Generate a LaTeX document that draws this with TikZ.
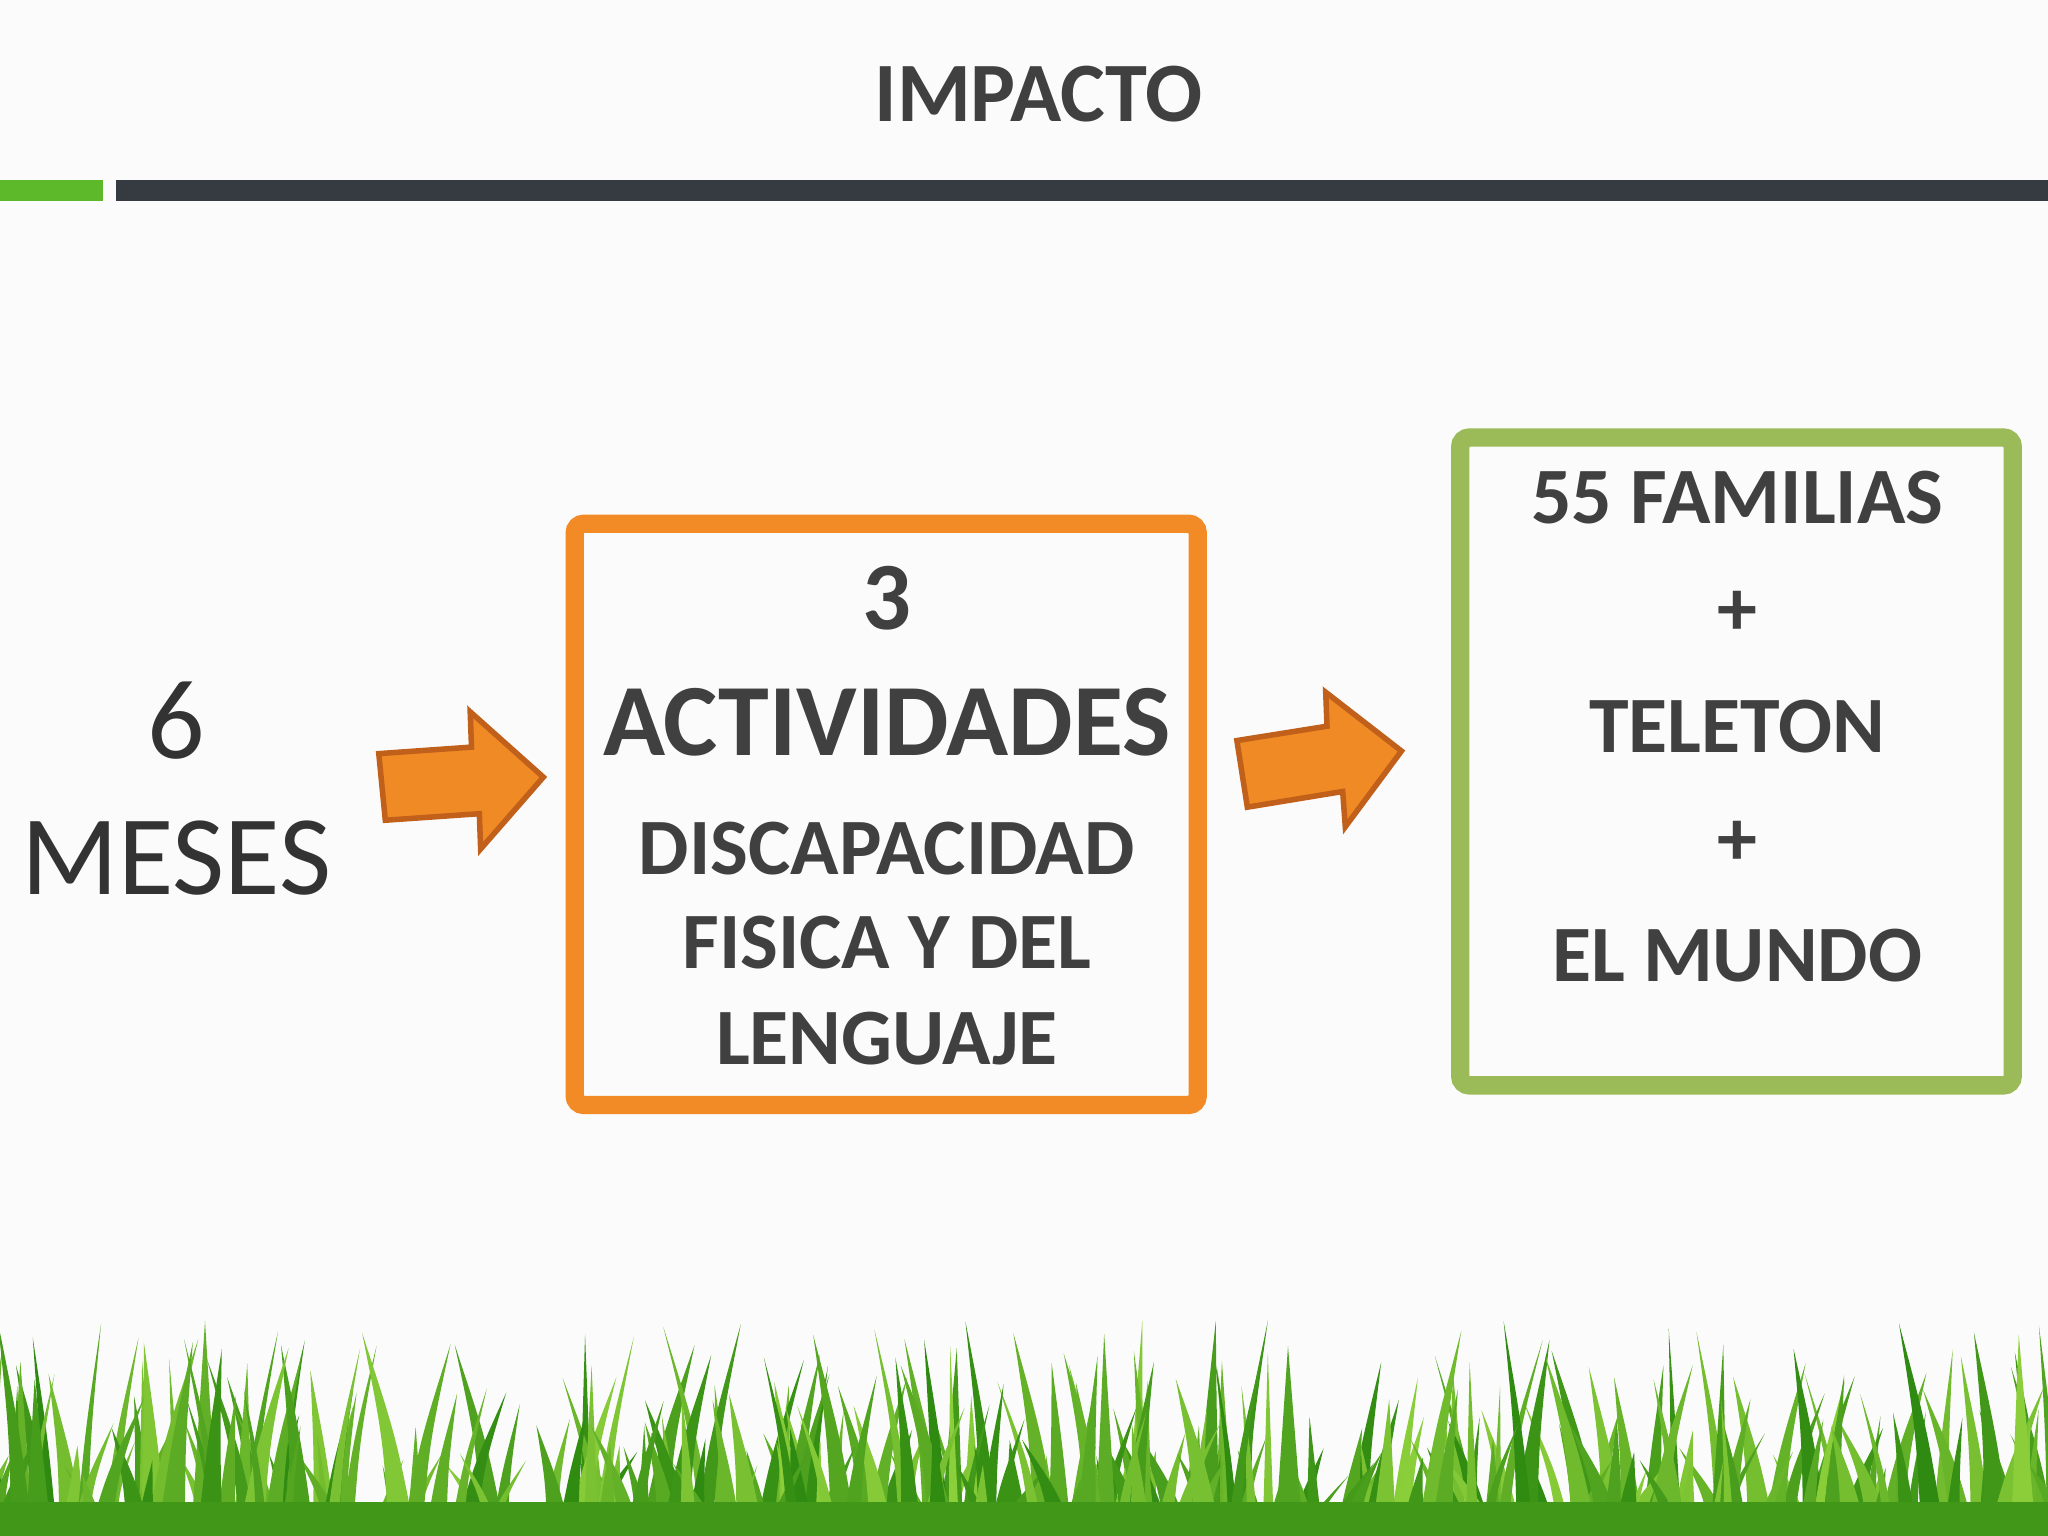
\documentclass[tikz,border=0pt]{standalone}
\usepackage{fontspec}
\setmainfont{Carlito}
\definecolor{txt}{HTML}{404040}
\definecolor{orbox}{HTML}{F28A25}
\definecolor{orarrow}{HTML}{F08A24}
\definecolor{orline}{HTML}{C0601A}
\definecolor{grbox}{HTML}{9BBB59}
\definecolor{barg}{HTML}{5DB82A}
\definecolor{bard}{HTML}{353B40}
\definecolor{grassA}{HTML}{2E8A10}
\definecolor{grassB}{HTML}{8CCF3A}
\begin{document}
\begin{tikzpicture}[x=0.01cm,y=-0.01cm,
  lbl/.style={text=txt,font=\bfseries\fontsize{17.4}{22}\selectfont,inner sep=0},
  big/.style={text=black!80,font=\fontsize{24.7}{30}\selectfont,inner sep=0},
  arr/.style={fill=orarrow,draw=orline,line width=1.2pt,line join=miter},
  frame/.style={line width=4pt,rounded corners=2pt}]
\useasboundingbox (0,0) rectangle (1568,1176);
\fill[white!97!gray] (0,0) rectangle (1568,1176);
\node[lbl,font=\bfseries\fontsize{18.4}{22}\selectfont] (title) at (795,72) {IMPACTO};
\fill[barg] (0,138) rectangle (79,154);
\fill[bard] (89,138) rectangle (1568,154);
\node[big] (six) at (135,552) {6};
\node[big] (meses) at (135,657) {MESES};
\draw[arr] (290,577) -- (361,572) -- (360,545) -- (416,595) -- (368,650) -- (367,623) -- (295,628) -- cycle;
\draw[frame,draw=orbox] (440,401) rectangle (917,846);
\node[lbl,font=\bfseries\fontsize{21}{26}\selectfont] (three) at (679,458) {3};
\node[lbl,font=\bfseries\fontsize{22.3}{28}\selectfont] (act) at (679,553) {ACTIVIDADES};
\node[lbl] (d1) at (679,650) {DISCAPACIDAD};
\node[lbl] (d2) at (679,722) {FISICA Y DEL};
\node[lbl] (d3) at (679,795) {LENGUAJE};
\draw[arr] (947,567) -- (1016,556) -- (1015,530) -- (1073,575) -- (1030,633) -- (1028,606) -- (955,618) -- cycle;
\draw[frame,draw=grbox] (1118,335) rectangle (1541,831);
\node[lbl] (f1) at (1330,381) {55 FAMILIAS};
\node[lbl] (p1) at (1330,470) {+};
\node[lbl] (f2) at (1330,556) {TELETON};
\node[lbl] (p2) at (1330,646) {+};
\node[lbl] (f3) at (1330,732) {EL MUNDO};
\begin{scope}
\clip (0,0) rectangle (1568,1176);
\pgfmathsetseed{7}
\foreach \i in {1,...,320}{
  \pgfmathsetmacro\bx{rnd*1600-16}
  \pgfmathsetmacro\bh{50+rnd*120}
  \pgfmathsetmacro\bl{(rnd-0.5)*70}
  \pgfmathsetmacro\bw{4+rnd*7}
  \pgfmathsetmacro\bc{rnd*100}
  \fill[grassA!\bc!grassB] (\bx-\bw,1180) .. controls (\bx-\bw/2+\bl/3,1180-\bh/2) .. (\bx+\bl,1180-\bh) .. controls (\bx+\bw/2+\bl/3,1180-\bh/2) .. (\bx+\bw,1180) -- cycle;
}
\fill[grassA!80!grassB] (0,1150) rectangle (1568,1176);
\end{scope}
\end{tikzpicture}
\end{document}
